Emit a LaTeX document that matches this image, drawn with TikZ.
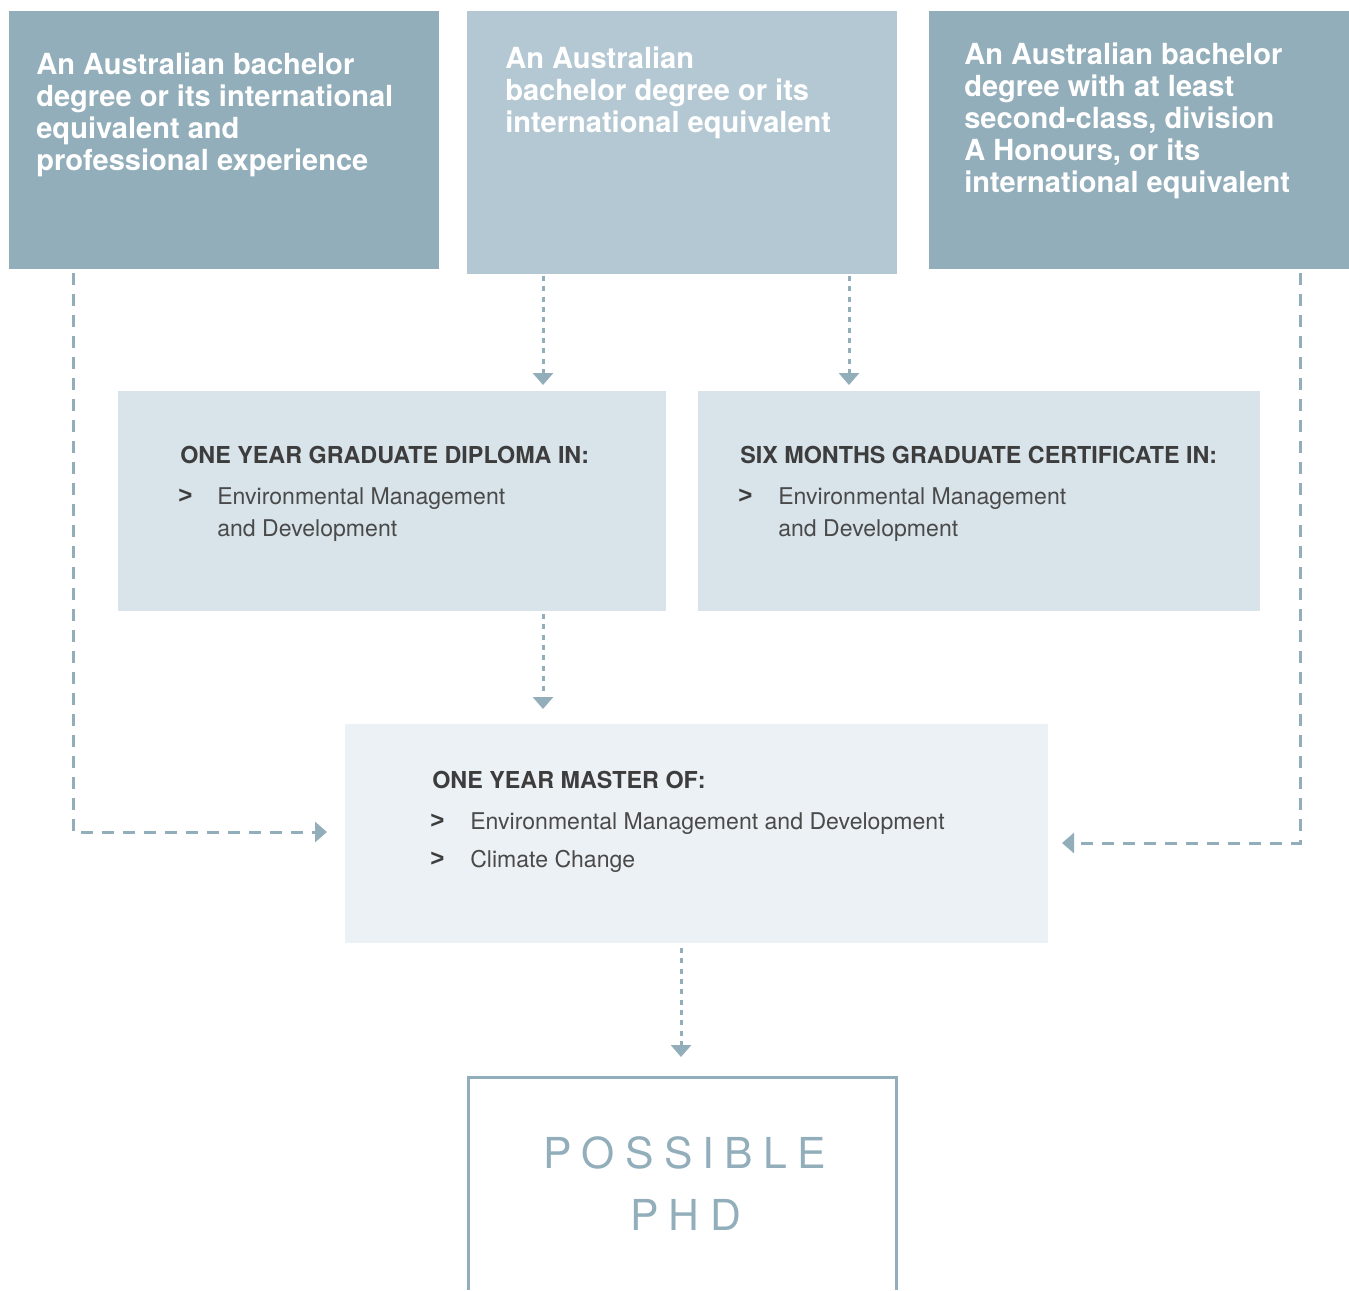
\documentclass[tikz,border=0pt]{standalone}
\usepackage{fontspec}
\setmainfont{TeX Gyre Heros}
\newfontfamily\markfont{Liberation Sans}
\usetikzlibrary{arrows.meta,calc}

\definecolor{steel}{HTML}{93AEBB}
\definecolor{steellight}{HTML}{B4C8D3}
\definecolor{mist}{HTML}{D8E3EA}
\definecolor{haze}{HTML}{ECF1F5}
\definecolor{linkblue}{HTML}{93AEBB}
\definecolor{headgray}{HTML}{3D3D3D}
\definecolor{bodygray}{HTML}{4A4A4A}

% multi-line text nodes are anchored at the baseline of their last line
\tikzset{
  panel/.style={rectangle, inner sep=0pt, outer sep=0pt, draw=none},
  lead/.style={anchor=base west, inner sep=0pt, align=left, text=white,
    font=\bfseries\fontsize{21.8}{24}\selectfont},
  head/.style={anchor=base west, inner sep=0pt, text=headgray,
    font=\bfseries\fontsize{17.5}{24}\selectfont},
  entry/.style={anchor=base west, inner sep=0pt, align=left, text=bodygray,
    font=\fontsize{17.3}{24}\selectfont},
  marker/.style={anchor=base west, inner sep=0pt, text=headgray,
    font=\markfont\bfseries\fontsize{18}{24}\selectfont},
  dotarrow/.style={draw=linkblue, line width=2.25pt,
    dash pattern=on 3.75pt off 4pt, -{Triangle[width=15pt,length=9pt]}},
  dasharrow/.style={draw=linkblue, line width=2.25pt,
    dash pattern=on 9pt off 6.75pt, -{Triangle[width=15pt,length=9pt]}},
  phdtext/.style={anchor=base west, inner sep=0pt, text=steel,
    font=\fontsize{32}{40}\selectfont\addfontfeature{LetterSpace=24}},
}

\begin{document}
\begin{tikzpicture}[x=0.75pt,y=-0.75pt]
\useasboundingbox (0,0) rectangle (1349,1290);

% entry requirement panels
\node[panel, fill=steel, minimum width=322.5pt, minimum height=193.5pt] (A) at (224,140) {};
\node[panel, fill=steellight, minimum width=322.5pt, minimum height=197.25pt] (B) at (682,142.5) {};
\node[panel, fill=steel, minimum width=315pt, minimum height=193.5pt] (C) at (1139,140) {};

\node[lead] (tA) at (36,170) {An Australian bachelor\\degree or its international\\equivalent and\\professional experience};
\node[lead] (tB) at (505,132) {An Australian\\bachelor degree or its\\international equivalent};
\node[lead] (tC) at (964,192) {An Australian bachelor\\degree with at least\\second-class, division\\A Honours, or its\\international equivalent};

% graduate diploma and certificate
\node[panel, fill=mist, minimum width=411pt, minimum height=165pt] (D) at (392,501) {};
\node[panel, fill=mist, minimum width=421.5pt, minimum height=165pt] (E) at (979,501) {};

\node[head] (hD) at (180,463) {ONE YEAR GRADUATE DIPLOMA IN:};
\node[marker] (mD) at (178,503) {>};
\node[entry] (iD) at (217,536) {Environmental Management\\and Development};

\node[head] (hE) at (740,463) {SIX MONTHS GRADUATE CERTIFICATE IN:};
\node[marker] (mE) at (738,503) {>};
\node[entry] (iE) at (778,536) {Environmental Management\\and Development};

% master
\node[panel, fill=haze, minimum width=527.25pt, minimum height=164.25pt] (F) at (696.5,833.5) {};
\node[head] (hF) at (432,788) {ONE YEAR MASTER OF:};
\node[marker] (mF1) at (430,828) {>};
\node[entry] (iF1) at (470,829) {Environmental Management and Development};
\node[marker] (mF2) at (430,866) {>};
\node[entry] (iF2) at (470,867) {Climate Change};

% possible PhD (open at the bottom)
\node[panel, minimum width=321pt, minimum height=159.75pt] (G) at (682,1183.5) {};
\draw[steel, line width=2.25pt] (G.south west) -- (G.north west) -- (G.north east) -- (G.south east);
\node[phdtext] (pG1) at (543,1168) {POSSIBLE};
\node[phdtext] (pG2) at (630,1230) {PHD};

% connectors
\coordinate (b1) at ($(B.south west)+(76,2)$);
\coordinate (b2) at ($(B.south west)+(382,2)$);
\coordinate (d1) at ($(D.south west)+(425,3)$);
\coordinate (f1) at ($(F.south west)+(336,5)$);
\coordinate (a1) at ($(A.south west)+(64,4)$);
\coordinate (c1) at ($(C.south west)+(371,4)$);
\coordinate (fl) at ($(F.west)+(-18,-1.5)$);
\coordinate (fr) at ($(F.east)+(14,9.5)$);

\draw[dotarrow, shorten >=4.5pt] (b1) -- (b1 |- D.north);
\draw[dotarrow, shorten >=4.5pt] (b2) -- (b2 |- E.north);
\draw[dotarrow, shorten >=11.25pt] (d1) -- (d1 |- F.north);
\draw[dotarrow, shorten >=15pt] (f1) -- (f1 |- G.north);
\draw[dasharrow] (a1) |- (fl);
\draw[dasharrow] (c1) |- (fr);
\end{tikzpicture}
\end{document}
